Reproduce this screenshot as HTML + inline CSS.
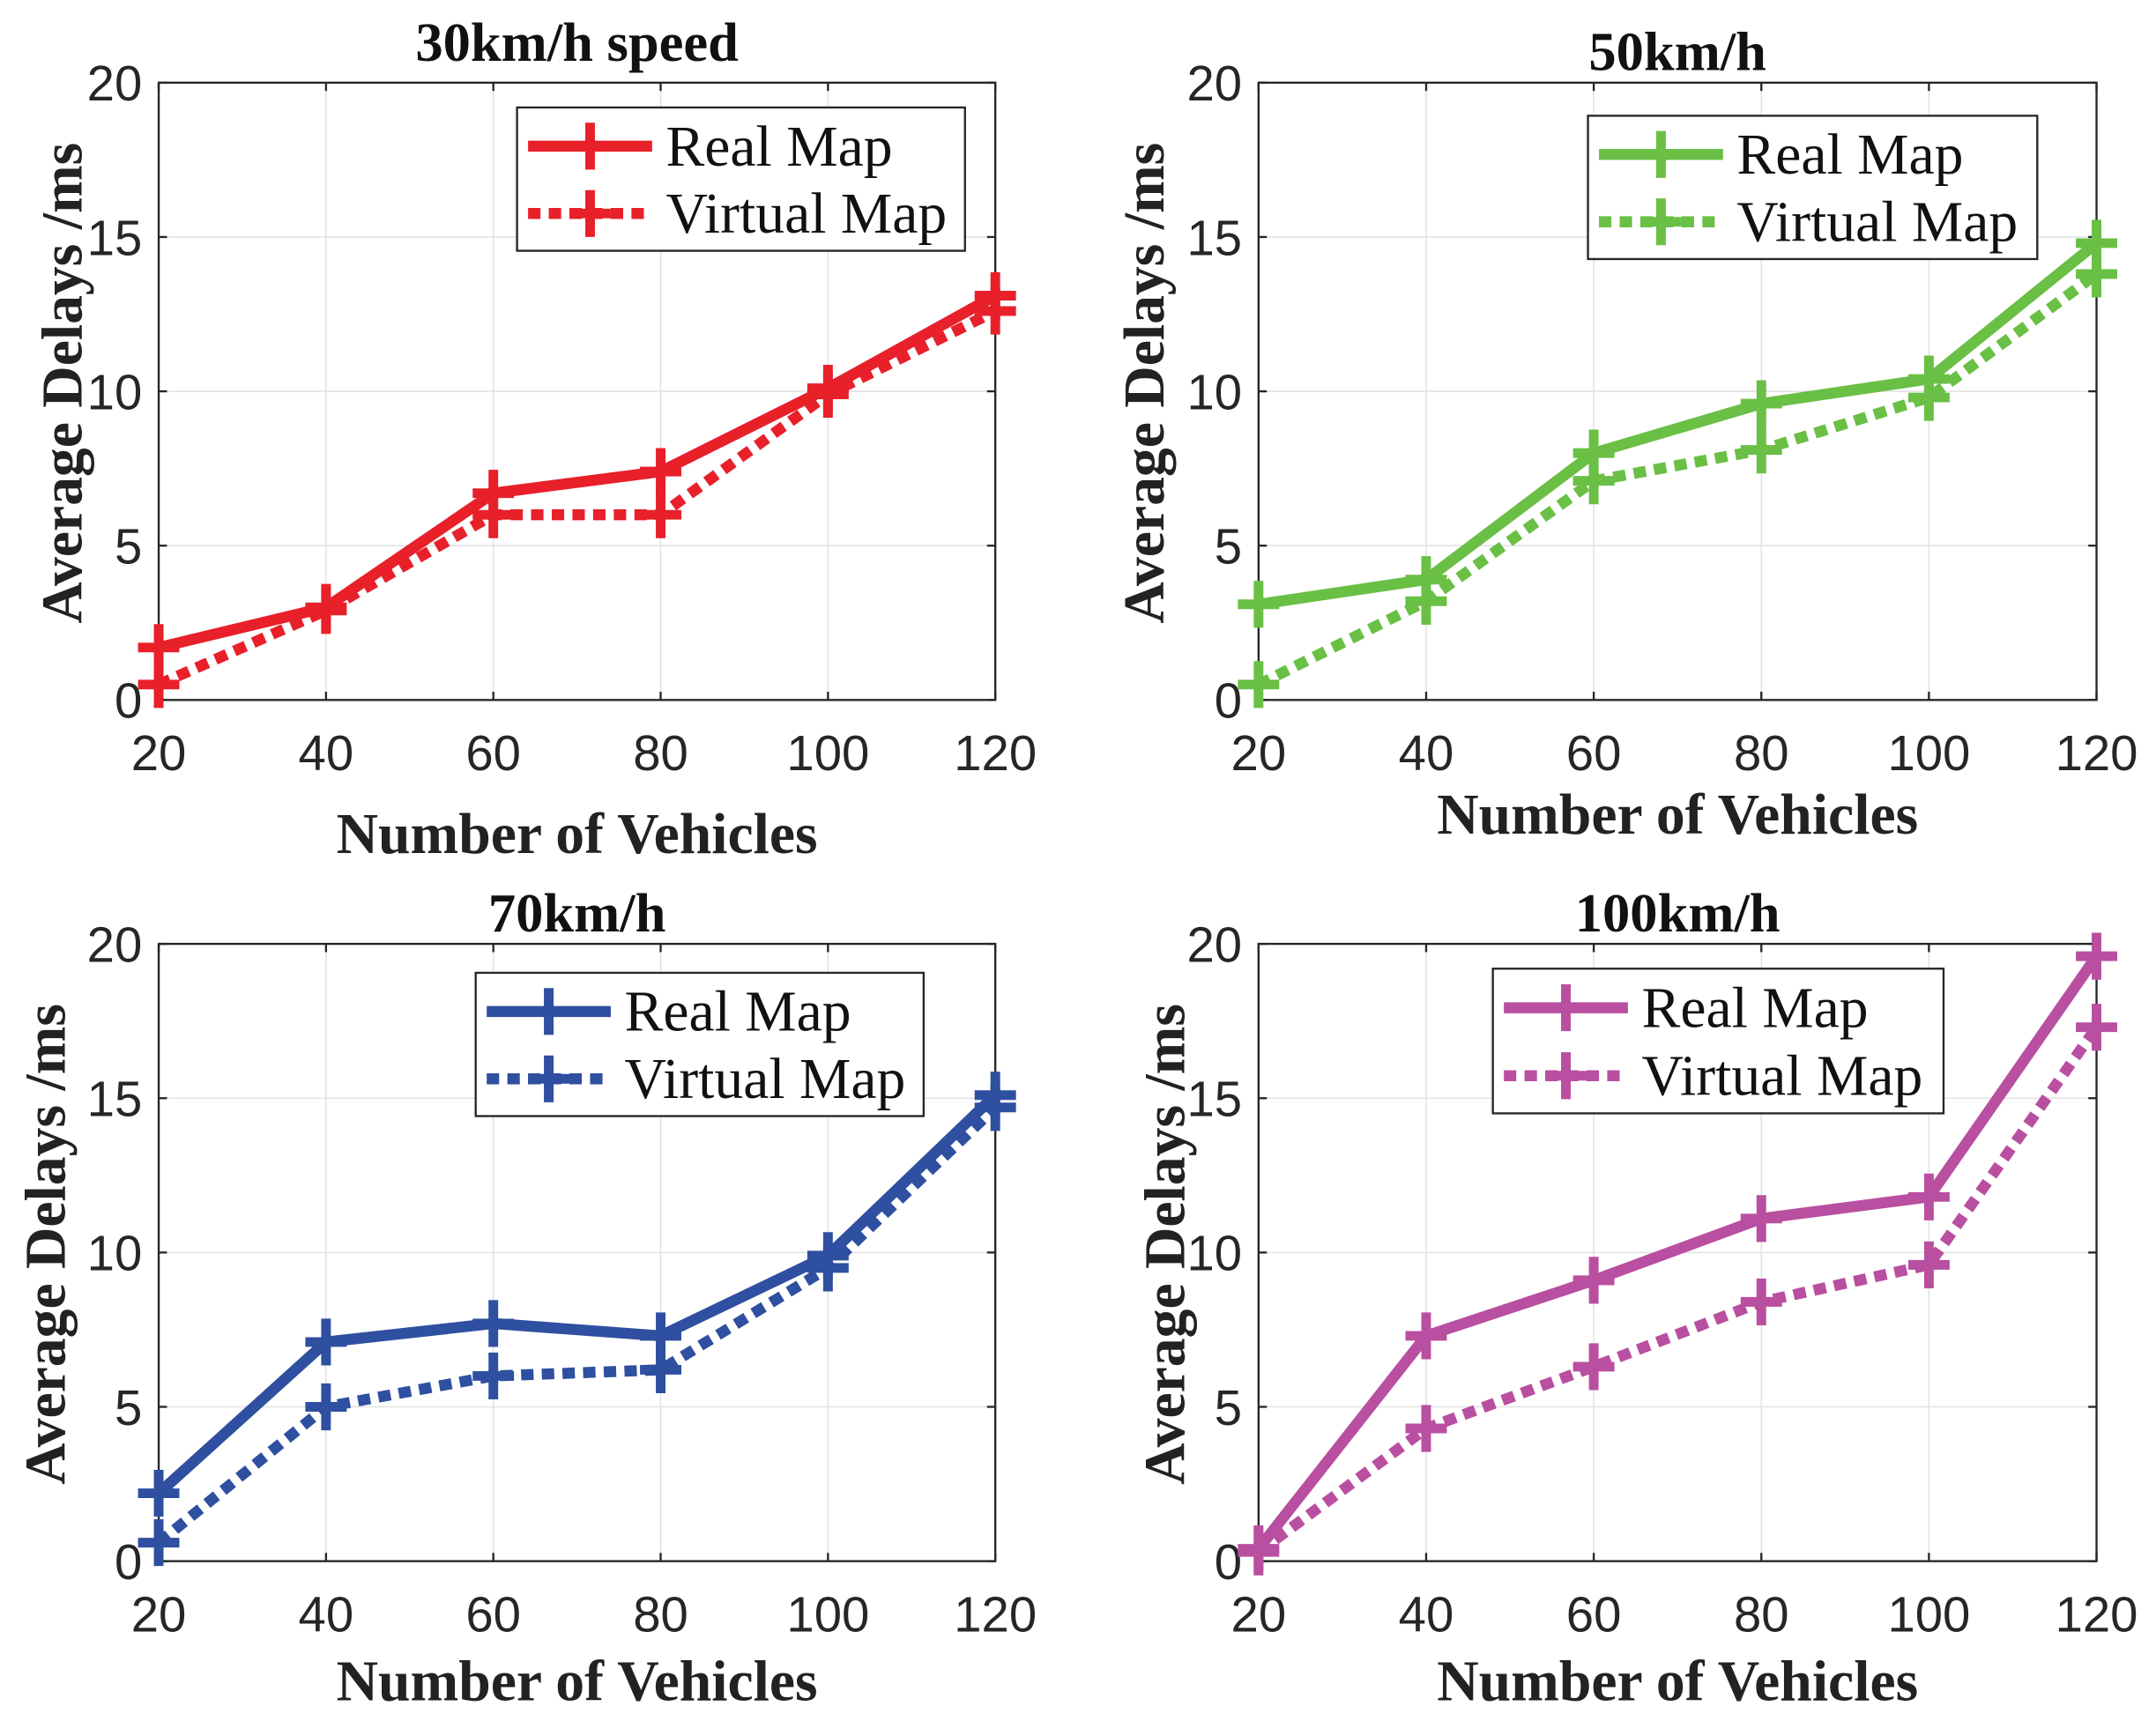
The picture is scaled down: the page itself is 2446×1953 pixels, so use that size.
<!DOCTYPE html>
<html><head><meta charset="utf-8"><style>
html,body{margin:0;padding:0;background:#fff}
svg{display:block}
</style></head><body>
<svg id="fig" width="2446" height="1953" viewBox="0 0 1564 1249" xmlns="http://www.w3.org/2000/svg"></svg>
<script>
const xCategories = [20, 40, 60, 80, 100, 120];
const yTicks = [0, 5, 10, 15, 20];
const real30 = [1.7, 3.0, 6.7, 7.4, 10.1, 13.1];
const virt30 = [0.5, 2.9, 6.0, 6.0, 9.9, 12.6];
const real50 = [3.1, 3.9, 8.0, 9.6, 10.4, 14.8];
const virt50 = [0.5, 3.2, 7.1, 8.1, 9.8, 13.8];
const real70 = [2.2, 7.1, 7.7, 7.3, 9.9, 15.1];
const virt70 = [0.6, 5.0, 6.0, 6.2, 9.5, 14.7];
const real100 = [0.4, 7.3, 9.1, 11.1, 11.8, 19.6];
const virt100 = [0.3, 4.3, 6.3, 8.4, 9.6, 17.3];
const titles = ["30km/h speed", "50km/h", "70km/h", "100km/h"];

const NS = "http://www.w3.org/2000/svg";
const svg = document.getElementById('fig');
function mk(tag, attrs, parent, text){
  const e = document.createElementNS(NS, tag);
  for (const k in attrs) e.setAttribute(k, attrs[k]);
  if (text !== undefined) e.textContent = text;
  (parent || svg).appendChild(e);
  return e;
}
const panels = [
  {x0:115,x1:722,y0:60,y1:508,title:titles[0],ty:30,xly:605,yl:45,color:"#e8202a",real:real30,virt:virt30,lg:[375,78,325,104],id:"30"},
  {x0:913,x1:1521,y0:60,y1:508,title:titles[1],ty:37,xly:591,yl:830,color:"#6abf45",real:real50,virt:virt50,lg:[1152,84,326,104],id:"50"},
  {x0:115,x1:722,y0:685,y1:1133,title:titles[2],ty:662,xly:1220,yl:33,color:"#2f4fa0",real:real70,virt:virt70,lg:[345,706,325,104],id:"70"},
  {x0:913,x1:1521,y0:685,y1:1133,title:titles[3],ty:662,xly:1220,yl:845,color:"#b94fa0",real:real100,virt:virt100,lg:[1083,703,327,105],id:"100"}
];
function plus(g, x, y, c){
  const p = mk('path', {d:`M${x-15},${y}H${x+15}M${x},${y-17}V${y+17}`, stroke:c, 'stroke-width':7, fill:'none'}, g);
  
  
}
panels.forEach(P => {
  const g = mk('g', {});
  
  
  const sx = v => P.x0 + (v - 20) / 100 * (P.x1 - P.x0);
  const sy = v => P.y1 - v / 20 * (P.y1 - P.y0);
  xCategories.forEach(v => { mk('line', {x1:sx(v),x2:sx(v),y1:P.y0,y2:P.y1,stroke:'#e2e2e2','stroke-width':1}, g); });
  yTicks.forEach(v => { mk('line', {x1:P.x0,x2:P.x1,y1:sy(v),y2:sy(v),stroke:'#e2e2e2','stroke-width':1}, g); });
  const box = mk('rect', {x:P.x0,y:P.y0,width:P.x1-P.x0,height:P.y1-P.y0,fill:'none',stroke:'#262626','stroke-width':1.5}, g);
  
  
  xCategories.forEach(v => {
    mk('line', {x1:sx(v),x2:sx(v),y1:P.y1,y2:P.y1-6,stroke:'#262626','stroke-width':1.5}, g);
    mk('line', {x1:sx(v),x2:sx(v),y1:P.y0,y2:P.y0+6,stroke:'#262626','stroke-width':1.5}, g);
    const t = mk('text', {x:sx(v),y:P.y1+51,'text-anchor':'middle','font-family':'Liberation Sans, sans-serif','font-size':36,fill:'#262626'}, g, v);
    
    
  });
  yTicks.forEach(v => {
    mk('line', {x1:P.x0,x2:P.x0+6,y1:sy(v),y2:sy(v),stroke:'#262626','stroke-width':1.5}, g);
    mk('line', {x1:P.x1,x2:P.x1-6,y1:sy(v),y2:sy(v),stroke:'#262626','stroke-width':1.5}, g);
    const t = mk('text', {x:P.x0-12,y:sy(v)+13,'text-anchor':'end','font-family':'Liberation Sans, sans-serif','font-size':36,fill:'#262626'}, g, v);
    
    
  });
  const tt = mk('text', {x:(P.x0+P.x1)/2,y:P.ty+14,'text-anchor':'middle','font-family':'Liberation Serif, serif','font-weight':'bold','font-size':40,fill:'#111'}, g, P.title);
  
  
  const xl = mk('text', {x:(P.x0+P.x1)/2,y:P.xly+14,'text-anchor':'middle','font-family':'Liberation Serif, serif','font-weight':'bold','font-size':42,fill:'#222'}, g, 'Number of Vehicles');
  
  
  const yl = mk('text', {x:0,y:0,'text-anchor':'middle','font-family':'Liberation Serif, serif','font-weight':'bold','font-size':42,fill:'#222',transform:`translate(${P.yl+14},${(P.y0+P.y1)/2-6}) rotate(-90)`}, g, 'Average Delays /ms');
  
  
  const pts = arr => arr.map((v,i) => sx(xCategories[i]) + ',' + sy(v)).join(' ');
  const lv = mk('polyline', {points:pts(P.virt),fill:'none',stroke:P.color,'stroke-width':8,'stroke-dasharray':'9,6'}, g);
  
  
  P.virt.forEach((v,i) => plus(g, sx(xCategories[i]), sy(v), P.color));
  const lr = mk('polyline', {points:pts(P.real),fill:'none',stroke:P.color,'stroke-width':8}, g);
  
  
  P.real.forEach((v,i) => plus(g, sx(xCategories[i]), sy(v), P.color));
  const [lx, ly, lw, lh] = P.lg;
  const lg = mk('g', {}, g);
  
  
  mk('rect', {x:lx,y:ly,width:lw,height:lh,fill:'#fff',stroke:'#262626','stroke-width':1.5}, lg);
  const r1 = ly + lh*0.27, r2 = ly + lh*0.74;
  mk('line', {x1:lx+8,x2:lx+98,y1:r1,y2:r1,stroke:P.color,'stroke-width':8}, lg);
  plus(lg, lx+53, r1, P.color);
  mk('line', {x1:lx+8,x2:lx+98,y1:r2,y2:r2,stroke:P.color,'stroke-width':8,'stroke-dasharray':'9,6'}, lg);
  plus(lg, lx+53, r2, P.color);
  const e1 = mk('text', {x:lx+108,y:r1+14,'font-family':'Liberation Serif, serif','font-size':42,fill:'#111'}, lg, 'Real Map');
  
  
  const e2 = mk('text', {x:lx+108,y:r2+14,'font-family':'Liberation Serif, serif','font-size':42,fill:'#111'}, lg, 'Virtual Map');
  
  
});
</script>
</body></html>
